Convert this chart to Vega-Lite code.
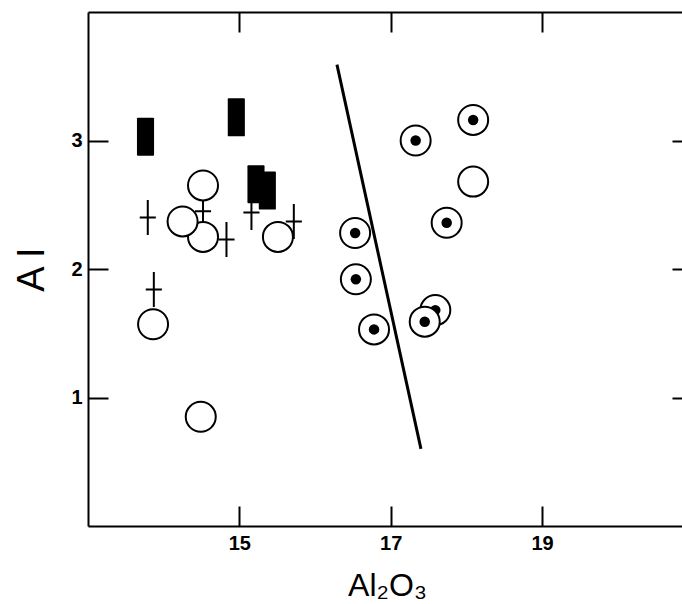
{
  "$schema": "https://vega.github.io/schema/vega-lite/v6.json",
  "width": 594,
  "height": 514,
  "autosize": {"type": "none"},
  "padding": {"left": 88, "top": 12, "right": 0, "bottom": 78},
  "background": "white",
  "config": {
    "view": {"stroke": null},
    "axis": {
      "grid": false,
      "domainColor": "black",
      "domainWidth": 2,
      "tickColor": "black",
      "tickWidth": 2,
      "labelColor": "black",
      "titleColor": "black",
      "labelFont": "Liberation Sans",
      "titleFont": "Liberation Sans",
      "labelFontWeight": "bold",
      "labelFontSize": 20,
      "titleFontWeight": "normal"
    }
  },
  "datasets": {
    "bars": [
      {"Al2O3": 13.76, "AI": 3.03},
      {"Al2O3": 14.96, "AI": 3.18},
      {"Al2O3": 15.22, "AI": 2.66},
      {"Al2O3": 15.37, "AI": 2.61}
    ],
    "crosses": [
      {"Al2O3": 13.79, "AI": 2.40},
      {"Al2O3": 14.52, "AI": 2.45},
      {"Al2O3": 14.83, "AI": 2.23},
      {"Al2O3": 15.16, "AI": 2.44},
      {"Al2O3": 15.72, "AI": 2.37},
      {"Al2O3": 13.87, "AI": 1.84}
    ],
    "open": [
      {"Al2O3": 14.52, "AI": 2.25},
      {"Al2O3": 14.25, "AI": 2.37},
      {"Al2O3": 14.52, "AI": 2.65},
      {"Al2O3": 15.51, "AI": 2.25},
      {"Al2O3": 13.86, "AI": 1.57},
      {"Al2O3": 14.49, "AI": 0.85},
      {"Al2O3": 18.09, "AI": 2.68}
    ],
    "dottedBack": [
      {"Al2O3": 17.59, "AI": 1.68}
    ],
    "dottedFront": [
      {"Al2O3": 16.53, "AI": 2.28},
      {"Al2O3": 16.54, "AI": 1.92},
      {"Al2O3": 16.78, "AI": 1.53},
      {"Al2O3": 17.74, "AI": 2.36},
      {"Al2O3": 17.45, "AI": 1.59},
      {"Al2O3": 18.09, "AI": 3.16},
      {"Al2O3": 17.33, "AI": 3.00}
    ],
    "divider": [
      {"Al2O3": 16.29, "AI": 3.59},
      {"Al2O3": 17.40, "AI": 0.60}
    ]
  },
  "resolve": {"axis": {"x": "independent", "y": "independent"}},
  "layer": [
    {
      "data": {"name": "crosses"},
      "mark": {"type": "point", "shape": "M0,-1V1M-0.46,0H0.46", "size": 1225, "filled": false, "stroke": "black", "strokeWidth": 2, "opacity": 1},
      "encoding": {
        "x": {"field": "Al2O3", "type": "quantitative", "scale": {"domain": [13, 20.85], "nice": false, "zero": false},
              "axis": {"orient": "bottom", "values": [15, 17, 19], "tickSize": -20, "labelPadding": 27, "title": "Al₂O₃", "titleFontSize": 32, "titleX": 299, "titleY": 69, "titleBaseline": "alphabetic", "titleAnchor": "middle"}},
        "y": {"field": "AI", "type": "quantitative", "scale": {"domain": [0, 4], "nice": false, "zero": false},
              "axis": {"orient": "left", "values": [1, 2, 3], "tickSize": -20, "labelPadding": 26, "title": "A I", "titleFontSize": 38, "titleX": -56, "titleY": 257, "titleAngle": -90, "titleBaseline": "middle", "titleAlign": "center"}}
      }
    },
    {
      "data": {"name": "open"},
      "mark": {"type": "point", "shape": "circle", "size": 900, "filled": true, "fill": "white", "stroke": "black", "strokeWidth": 2, "opacity": 1},
      "encoding": {
        "x": {"field": "Al2O3", "type": "quantitative", "axis": {"orient": "top", "values": [15, 17, 19], "tickSize": -20, "labels": false, "title": null}},
        "y": {"field": "AI", "type": "quantitative", "axis": {"orient": "right", "values": [1, 2, 3], "tickSize": -10, "labels": false, "domain": false, "title": null}}
      }
    },
    {
      "data": {"name": "dottedBack"},
      "mark": {"type": "point", "shape": "circle", "size": 900, "filled": true, "fill": "white", "stroke": "black", "strokeWidth": 2, "opacity": 1},
      "encoding": {
        "x": {"field": "Al2O3", "type": "quantitative", "axis": null},
        "y": {"field": "AI", "type": "quantitative", "axis": null}
      }
    },
    {
      "data": {"name": "dottedBack"},
      "mark": {"type": "point", "shape": "circle", "size": 110, "filled": true, "color": "black", "opacity": 1},
      "encoding": {
        "x": {"field": "Al2O3", "type": "quantitative", "axis": null},
        "y": {"field": "AI", "type": "quantitative", "axis": null}
      }
    },
    {
      "data": {"name": "dottedFront"},
      "mark": {"type": "point", "shape": "circle", "size": 900, "filled": true, "fill": "white", "stroke": "black", "strokeWidth": 2, "opacity": 1},
      "encoding": {
        "x": {"field": "Al2O3", "type": "quantitative", "axis": null},
        "y": {"field": "AI", "type": "quantitative", "axis": null}
      }
    },
    {
      "data": {"name": "dottedFront"},
      "mark": {"type": "point", "shape": "circle", "size": 110, "filled": true, "color": "black", "opacity": 1},
      "encoding": {
        "x": {"field": "Al2O3", "type": "quantitative", "axis": null},
        "y": {"field": "AI", "type": "quantitative", "axis": null}
      }
    },
    {
      "data": {"name": "bars"},
      "mark": {"type": "point", "shape": "M-0.45,-0.95Q-0.45,-1,-0.4,-1H0.4Q0.45,-1,0.45,-0.95V0.95Q0.45,1,0.4,1H-0.4Q-0.45,1,-0.45,0.95Z", "size": 1444, "filled": true, "color": "black", "opacity": 1},
      "encoding": {
        "x": {"field": "Al2O3", "type": "quantitative", "axis": null},
        "y": {"field": "AI", "type": "quantitative", "axis": null}
      }
    },
    {
      "data": {"name": "divider"},
      "mark": {"type": "line", "color": "black", "strokeWidth": 3},
      "encoding": {
        "x": {"field": "Al2O3", "type": "quantitative", "axis": null},
        "y": {"field": "AI", "type": "quantitative", "axis": null}
      }
    }
  ]
}
